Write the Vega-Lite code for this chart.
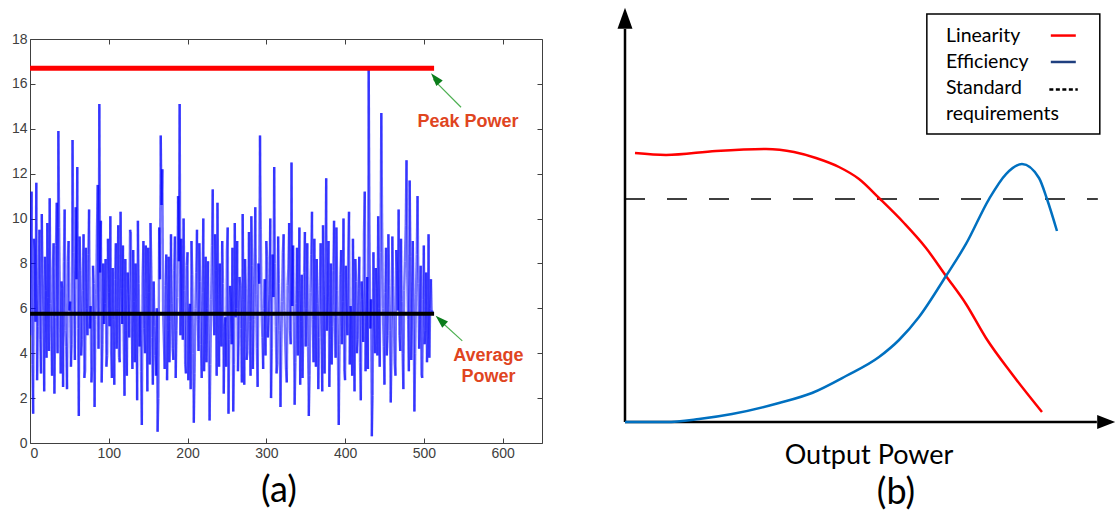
{
  "$schema": "https://vega.github.io/schema/vega-lite/v6.json",
  "padding": {"left": 10, "top": 7, "right": 0, "bottom": 0},
  "spacing": 83,
  "bounds": "flush",
  "config": {"view": {"stroke": null}, "font": "Liberation Sans"},
  "datasets": {
    "signal": [
      {"x":0,"p":4.8},{"x":2,"p":11.2},{"x":4,"p":1.3},{"x":6,"p":8.6},{"x":8,"p":11.6},{"x":10,"p":5.2},{"x":12,"p":9.5},{"x":14,"p":3.1},{"x":16,"p":7.4},{"x":18,"p":2.3},{"x":20,"p":6.8},{"x":22,"p":9.8},{"x":24,"p":4.1},{"x":26,"p":6.2},{"x":28,"p":3.0},{"x":30,"p":8.9},
      {"x":32,"p":5.6},{"x":34,"p":10.7},{"x":36,"p":13.9},{"x":38,"p":6.1},{"x":40,"p":7.2},{"x":42,"p":2.5},{"x":44,"p":10.4},{"x":46,"p":4.3},{"x":48,"p":8.1},{"x":50,"p":5.9},{"x":52,"p":3.4},{"x":54,"p":13.5},{"x":56,"p":6.4},{"x":58,"p":10.5},{"x":60,"p":12.3},{"x":62,"p":1.2},
      {"x":64,"p":7.7},{"x":66,"p":4.6},{"x":68,"p":9.3},{"x":70,"p":3.2},{"x":72,"p":6.0},{"x":74,"p":8.4},{"x":76,"p":5.1},{"x":78,"p":2.7},{"x":80,"p":7.9},{"x":82,"p":1.6},{"x":84,"p":6.6},{"x":86,"p":11.5},{"x":88,"p":15.1},{"x":90,"p":9.9},{"x":92,"p":4.4},{"x":94,"p":5.3},
      {"x":96,"p":8.2},{"x":98,"p":3.9},{"x":100,"p":6.7},{"x":102,"p":10.1},{"x":104,"p":2.9},{"x":106,"p":5.5},{"x":108,"p":7.3},{"x":110,"p":4.2},{"x":112,"p":9.7},{"x":114,"p":3.6},{"x":116,"p":6.9},{"x":118,"p":8.8},{"x":120,"p":2.1},{"x":122,"p":5.0},{"x":124,"p":7.6},{"x":126,"p":4.7},
      {"x":128,"p":9.4},{"x":130,"p":3.3},{"x":132,"p":6.3},{"x":134,"p":8.0},{"x":136,"p":1.9},{"x":138,"p":7.1},{"x":140,"p":5.8},{"x":142,"p":0.8},{"x":144,"p":9.0},{"x":146,"p":4.0},{"x":148,"p":6.5},{"x":150,"p":8.7},{"x":152,"p":3.5},{"x":154,"p":7.8},{"x":156,"p":2.6},{"x":158,"p":5.2},
      {"x":160,"p":3.0},{"x":162,"p":0.5},{"x":164,"p":9.6},{"x":166,"p":13.7},{"x":168,"p":12.2},{"x":170,"p":4.5},{"x":172,"p":7.0},{"x":174,"p":2.8},{"x":176,"p":8.3},{"x":178,"p":5.4},{"x":180,"p":6.2},{"x":182,"p":3.7},{"x":184,"p":9.2},{"x":186,"p":5.0},{"x":188,"p":11.0},{"x":190,"p":15.1},
      {"x":192,"p":9.1},{"x":194,"p":4.6},{"x":196,"p":6.8},{"x":198,"p":3.1},{"x":200,"p":8.5},{"x":202,"p":5.7},{"x":204,"p":2.4},{"x":206,"p":7.5},{"x":208,"p":0.9},{"x":210,"p":6.0},{"x":212,"p":9.5},{"x":214,"p":4.1},{"x":216,"p":7.2},{"x":218,"p":2.9},{"x":220,"p":10.0},{"x":222,"p":5.3},
      {"x":224,"p":3.6},{"x":226,"p":8.1},{"x":228,"p":1.0},{"x":230,"p":6.4},{"x":232,"p":11.3},{"x":234,"p":4.8},{"x":236,"p":7.7},{"x":238,"p":10.7},{"x":240,"p":3.4},{"x":242,"p":6.1},{"x":244,"p":9.0},{"x":246,"p":2.2},{"x":248,"p":5.6},{"x":250,"p":8.6},{"x":252,"p":1.3},{"x":254,"p":7.0},
      {"x":256,"p":4.4},{"x":258,"p":1.4},{"x":260,"p":9.8},{"x":262,"p":6.0},{"x":264,"p":3.2},{"x":266,"p":7.4},{"x":268,"p":5.1},{"x":270,"p":10.2},{"x":272,"p":2.6},{"x":274,"p":6.9},{"x":276,"p":4.0},{"x":278,"p":9.4},{"x":280,"p":3.0},{"x":282,"p":7.9},{"x":284,"p":5.5},{"x":286,"p":10.5},
      {"x":288,"p":4.2},{"x":290,"p":8.0},{"x":292,"p":13.7},{"x":294,"p":5.9},{"x":296,"p":3.3},{"x":298,"p":7.3},{"x":300,"p":9.0},{"x":302,"p":4.7},{"x":304,"p":6.6},{"x":306,"p":2.0},{"x":308,"p":8.4},{"x":310,"p":12.3},{"x":312,"p":5.2},{"x":314,"p":3.5},{"x":316,"p":7.1},{"x":318,"p":1.6},
      {"x":320,"p":6.3},{"x":322,"p":9.3},{"x":324,"p":4.5},{"x":326,"p":2.7},{"x":328,"p":7.8},{"x":330,"p":5.0},{"x":332,"p":12.5},{"x":334,"p":8.8},{"x":336,"p":1.7},{"x":338,"p":6.2},{"x":340,"p":3.9},{"x":342,"p":9.6},{"x":344,"p":5.4},{"x":346,"p":2.9},{"x":348,"p":7.6},{"x":350,"p":4.3},
      {"x":352,"p":8.9},{"x":354,"p":1.2},{"x":356,"p":6.7},{"x":358,"p":10.3},{"x":360,"p":3.6},{"x":362,"p":5.8},{"x":364,"p":8.2},{"x":366,"p":2.4},{"x":368,"p":7.0},{"x":370,"p":4.9},{"x":372,"p":9.7},{"x":374,"p":3.1},{"x":376,"p":11.8},{"x":378,"p":6.5},{"x":380,"p":2.5},{"x":382,"p":8.0},
      {"x":384,"p":5.2},{"x":386,"p":9.9},{"x":388,"p":3.8},{"x":390,"p":6.8},{"x":392,"p":0.8},{"x":394,"p":7.5},{"x":396,"p":4.4},{"x":398,"p":10.0},{"x":400,"p":2.8},{"x":402,"p":6.1},{"x":404,"p":8.6},{"x":406,"p":3.5},{"x":408,"p":5.7},{"x":410,"p":9.1},{"x":412,"p":2.3},{"x":414,"p":7.2},
      {"x":416,"p":4.6},{"x":418,"p":8.3},{"x":420,"p":1.9},{"x":422,"p":6.4},{"x":424,"p":9.4},{"x":426,"p":3.2},{"x":428,"p":7.4},{"x":430,"p":16.7},{"x":432,"p":5.1},{"x":434,"p":0.3},{"x":436,"p":8.5},{"x":438,"p":4.0},{"x":440,"p":6.9},{"x":442,"p":10.1},{"x":444,"p":3.4},{"x":446,"p":14.7},
      {"x":448,"p":6.0},{"x":450,"p":2.6},{"x":452,"p":8.7},{"x":454,"p":4.8},{"x":456,"p":7.0},{"x":458,"p":1.8},{"x":460,"p":9.2},{"x":462,"p":5.3},{"x":464,"p":3.0},{"x":466,"p":7.7},{"x":468,"p":10.4},{"x":470,"p":4.1},{"x":472,"p":6.3},{"x":474,"p":2.4},{"x":476,"p":8.1},{"x":478,"p":12.6},
      {"x":480,"p":5.5},{"x":482,"p":11.7},{"x":484,"p":3.7},{"x":486,"p":9.0},{"x":488,"p":1.4},{"x":490,"p":6.6},{"x":492,"p":11.0},{"x":494,"p":4.2},{"x":496,"p":7.9},{"x":498,"p":2.9},{"x":500,"p":8.8},{"x":502,"p":5.0},{"x":504,"p":3.6},{"x":506,"p":9.3},{"x":508,"p":6.0},{"x":510,"p":5.7},
      {"x":1,"p":7.9},{"x":3,"p":3.5},{"x":5,"p":9.1},{"x":7,"p":5.4},{"x":9,"p":2.8},{"x":11,"p":7.0},{"x":13,"p":4.6},{"x":15,"p":10.2},{"x":17,"p":5.9},{"x":19,"p":8.3},{"x":21,"p":3.8},{"x":23,"p":6.5},{"x":25,"p":10.9},{"x":27,"p":4.9},{"x":29,"p":7.8},{"x":31,"p":2.2},
      {"x":33,"p":8.8},{"x":35,"p":4.0},{"x":37,"p":9.6},{"x":39,"p":3.1},{"x":41,"p":6.9},{"x":43,"p":8.1},{"x":45,"p":5.0},{"x":47,"p":2.4},{"x":49,"p":9.0},{"x":51,"p":6.3},{"x":53,"p":4.4},{"x":55,"p":8.5},{"x":57,"p":3.7},{"x":59,"p":7.3},{"x":61,"p":5.1},{"x":63,"p":9.2},
      {"x":65,"p":3.9},{"x":67,"p":6.8},{"x":69,"p":2.9},{"x":71,"p":8.7},{"x":73,"p":4.8},{"x":75,"p":10.4},{"x":77,"p":6.1},{"x":79,"p":3.3},{"x":81,"p":7.1},{"x":83,"p":5.5},{"x":85,"p":9.4},{"x":87,"p":4.2},{"x":89,"p":7.6},{"x":91,"p":2.7},{"x":93,"p":8.0},{"x":95,"p":6.2},
      {"x":97,"p":3.4},{"x":99,"p":9.1},{"x":101,"p":5.2},{"x":103,"p":4.1},{"x":105,"p":7.8},{"x":107,"p":2.6},{"x":109,"p":8.9},{"x":111,"p":6.0},{"x":113,"p":3.8},{"x":115,"p":10.3},{"x":117,"p":5.3},{"x":119,"p":4.5},{"x":121,"p":8.2},{"x":123,"p":3.0},{"x":125,"p":6.6},{"x":127,"p":9.5},
      {"x":129,"p":5.7},{"x":131,"p":8.6},{"x":133,"p":3.6},{"x":135,"p":6.4},{"x":137,"p":9.9},{"x":139,"p":4.3},{"x":141,"p":3.2},{"x":143,"p":7.4},{"x":145,"p":5.1},{"x":147,"p":8.8},{"x":149,"p":2.3},{"x":151,"p":6.7},{"x":153,"p":9.8},{"x":155,"p":4.7},{"x":157,"p":7.2},{"x":159,"p":3.9},
      {"x":161,"p":6.0},{"x":163,"p":2.0},{"x":165,"p":7.3},{"x":167,"p":10.6},{"x":169,"p":5.8},{"x":171,"p":3.3},{"x":173,"p":8.4},{"x":175,"p":5.0},{"x":177,"p":3.6},{"x":179,"p":9.3},{"x":181,"p":4.2},{"x":183,"p":7.7},{"x":185,"p":2.9},{"x":187,"p":6.5},{"x":189,"p":8.1},{"x":191,"p":4.8},
      {"x":193,"p":6.9},{"x":195,"p":10.0},{"x":197,"p":3.5},{"x":199,"p":7.9},{"x":201,"p":2.8},{"x":203,"p":6.2},{"x":205,"p":9.0},{"x":207,"p":4.0},{"x":209,"p":3.1},{"x":211,"p":7.6},{"x":213,"p":5.5},{"x":215,"p":8.9},{"x":217,"p":4.4},{"x":219,"p":6.7},{"x":221,"p":3.2},{"x":223,"p":8.3},
      {"x":225,"p":6.0},{"x":227,"p":4.1},{"x":229,"p":3.5},{"x":231,"p":8.8},{"x":233,"p":5.9},{"x":235,"p":9.3},{"x":237,"p":3.0},{"x":239,"p":6.6},{"x":241,"p":8.0},{"x":243,"p":4.3},{"x":245,"p":7.1},{"x":247,"p":5.2},{"x":249,"p":3.4},{"x":251,"p":9.6},{"x":253,"p":4.6},{"x":255,"p":6.3},
      {"x":257,"p":8.7},{"x":259,"p":3.5},{"x":261,"p":5.6},{"x":263,"p":9.0},{"x":265,"p":4.5},{"x":267,"p":7.0},{"x":269,"p":2.7},{"x":271,"p":6.4},{"x":273,"p":8.2},{"x":275,"p":3.7},{"x":277,"p":6.1},{"x":279,"p":5.4},{"x":281,"p":10.1},{"x":283,"p":3.3},{"x":285,"p":7.8},{"x":287,"p":6.6},
      {"x":289,"p":2.5},{"x":291,"p":7.1},{"x":293,"p":9.5},{"x":295,"p":4.7},{"x":297,"p":6.0},{"x":299,"p":3.9},{"x":301,"p":8.3},{"x":303,"p":5.6},{"x":305,"p":10.0},{"x":307,"p":4.2},{"x":309,"p":6.5},{"x":311,"p":8.0},{"x":313,"p":3.1},{"x":315,"p":9.2},{"x":317,"p":5.0},{"x":319,"p":4.1},
      {"x":321,"p":8.5},{"x":323,"p":5.9},{"x":325,"p":3.3},{"x":327,"p":7.0},{"x":329,"p":9.8},{"x":331,"p":4.4},{"x":333,"p":6.1},{"x":335,"p":4.9},{"x":337,"p":3.6},{"x":339,"p":8.7},{"x":341,"p":6.8},{"x":343,"p":2.6},{"x":345,"p":7.5},{"x":347,"p":5.3},{"x":349,"p":9.4},{"x":351,"p":6.0},
      {"x":353,"p":4.3},{"x":355,"p":3.0},{"x":357,"p":8.4},{"x":359,"p":5.5},{"x":361,"p":9.1},{"x":363,"p":3.4},{"x":365,"p":6.2},{"x":367,"p":4.7},{"x":369,"p":8.9},{"x":371,"p":2.3},{"x":373,"p":6.6},{"x":375,"p":7.4},{"x":377,"p":5.0},{"x":379,"p":9.0},{"x":381,"p":4.6},{"x":383,"p":3.5},
      {"x":385,"p":7.7},{"x":387,"p":5.6},{"x":389,"p":9.6},{"x":391,"p":3.7},{"x":393,"p":4.4},{"x":395,"p":8.6},{"x":397,"p":6.3},{"x":399,"p":3.2},{"x":401,"p":7.9},{"x":403,"p":4.8},{"x":405,"p":10.3},{"x":407,"p":6.1},{"x":409,"p":3.0},{"x":411,"p":5.8},{"x":413,"p":8.2},{"x":415,"p":4.0},
      {"x":417,"p":6.9},{"x":419,"p":3.6},{"x":421,"p":7.2},{"x":423,"p":4.5},{"x":425,"p":11.2},{"x":427,"p":5.7},{"x":429,"p":3.3},{"x":431,"p":9.4},{"x":433,"p":6.4},{"x":435,"p":2.1},{"x":437,"p":5.3},{"x":439,"p":7.8},{"x":441,"p":3.9},{"x":443,"p":6.0},{"x":445,"p":8.5},{"x":447,"p":9.8},
      {"x":449,"p":4.3},{"x":451,"p":6.7},{"x":453,"p":3.9},{"x":455,"p":9.3},{"x":457,"p":5.0},{"x":459,"p":4.1},{"x":461,"p":7.0},{"x":463,"p":3.5},{"x":465,"p":8.6},{"x":467,"p":5.9},{"x":469,"p":4.8},{"x":471,"p":9.1},{"x":473,"p":4.0},{"x":475,"p":6.8},{"x":477,"p":9.7},{"x":479,"p":7.4},
      {"x":481,"p":3.2},{"x":483,"p":8.3},{"x":485,"p":5.8},{"x":487,"p":6.1},{"x":489,"p":4.0},{"x":491,"p":8.4},{"x":493,"p":7.1},{"x":495,"p":5.5},{"x":497,"p":3.0},{"x":499,"p":6.4},{"x":501,"p":4.4},{"x":503,"p":7.6},{"x":505,"p":4.9},{"x":507,"p":3.8},{"x":509,"p":7.3},{"x":511,"p":5.9}
    ],
    "curves": [
      {"s":"Linearity","i":1,"x":2.04,"y":70.23},{"s":"Linearity","i":2,"x":8.37,"y":69.71},{"s":"Linearity","i":3,"x":18.57,"y":70.76},{"s":"Linearity","i":4,"x":28.78,"y":71.28},{"s":"Linearity","i":5,"x":34.49,"y":70.5},{"s":"Linearity","i":6,"x":38.98,"y":68.93},{"s":"Linearity","i":7,"x":43.67,"y":66.58},{"s":"Linearity","i":8,"x":47.76,"y":63.45},{"s":"Linearity","i":9,"x":51.84,"y":58.49},{"s":"Linearity","i":10,"x":56.94,"y":51.96},{"s":"Linearity","i":11,"x":61.43,"y":45.43},{"s":"Linearity","i":12,"x":65.51,"y":38.12},{"s":"Linearity","i":13,"x":69.59,"y":30.81},{"s":"Linearity","i":14,"x":73.67,"y":21.93},{"s":"Linearity","i":15,"x":78.98,"y":12.53},{"s":"Linearity","i":16,"x":85.1,"y":2.61},
      {"s":"Efficiency","i":1,"x":0,"y":0},{"s":"Efficiency","i":2,"x":8.37,"y":0},{"s":"Efficiency","i":3,"x":15.1,"y":0.78},{"s":"Efficiency","i":4,"x":21.84,"y":2.09},{"s":"Efficiency","i":5,"x":31.43,"y":4.96},{"s":"Efficiency","i":6,"x":38.16,"y":7.57},{"s":"Efficiency","i":7,"x":45.1,"y":12.01},{"s":"Efficiency","i":8,"x":51.84,"y":16.97},{"s":"Efficiency","i":9,"x":55.92,"y":21.41},{"s":"Efficiency","i":10,"x":60.0,"y":27.42},{"s":"Efficiency","i":11,"x":65.51,"y":38.12},{"s":"Efficiency","i":12,"x":69.59,"y":46.48},{"s":"Efficiency","i":13,"x":74.29,"y":58.22},{"s":"Efficiency","i":14,"x":77.76,"y":64.75},{"s":"Efficiency","i":15,"x":81.02,"y":67.36},{"s":"Efficiency","i":16,"x":84.49,"y":63.71},{"s":"Efficiency","i":17,"x":86.12,"y":58.22},{"s":"Efficiency","i":18,"x":88.16,"y":49.87}
    ]
  },
  "hconcat": [
    {
      "width": 512,
      "height": 404,
      "view": {"stroke": "#404040", "strokeWidth": 1},
      "resolve": {"axis": {"x": "independent", "y": "independent"}},
      "layer": [
        {
          "data": {"name": "signal"},
          "transform": [
            {"window": [{"op": "lead", "field": "p", "as": "pn"}, {"op": "lead", "field": "x", "as": "xn"}], "sort": [{"field": "x", "order": "ascending"}]},
            {"filter": "datum.xn != null"}
          ],
          "mark": {"type": "rule", "stroke": "#0000ff", "strokeWidth": 2.4, "opacity": 0.55, "clip": true},
          "encoding": {
            "x": {"field": "x", "type": "quantitative", "scale": {"domain": [0, 650], "nice": false, "zero": false},
              "axis": {"orient": "bottom", "title": null, "values": [0,100,200,300,400,500,600], "grid": false, "domain": false, "tickSize": -5, "tickColor": "#404040", "labelColor": "#404040", "labelFontSize": 14, "labelPadding": 8, "labelFont": "Liberation Sans"}},
            "x2": {"field": "xn"},
            "y": {"field": "p", "type": "quantitative", "scale": {"domain": [0, 18], "nice": false, "zero": false},
              "axis": {"orient": "left", "title": null, "values": [0,2,4,6,8,10,12,14,16,18], "grid": false, "domain": false, "tickSize": -5, "tickColor": "#404040", "labelColor": "#404040", "labelFontSize": 14, "labelPadding": 8, "labelFont": "Liberation Sans"}},
            "y2": {"field": "pn"}
          }
        },
        {
          "data": {"values": [{"x": 0, "p": 0}]},
          "mark": {"type": "point", "opacity": 0},
          "encoding": {
            "x": {"field": "x", "type": "quantitative", "axis": {"orient": "top", "title": null, "labels": false, "values": [0,100,200,300,400,500,600], "grid": false, "domain": false, "tickSize": -5, "tickColor": "#404040"}},
            "y": {"field": "p", "type": "quantitative", "axis": {"orient": "right", "title": null, "labels": false, "values": [0,2,4,6,8,10,12,14,16,18], "grid": false, "domain": false, "tickSize": -5, "tickColor": "#404040"}}
          }
        },
        {
          "data": {"values": [{"x0": 0, "x1": 513, "y": 16.7}]},
          "mark": {"type": "rule", "color": "#ff0000", "strokeWidth": 5},
          "encoding": {"x": {"field": "x0", "type": "quantitative", "axis": null}, "x2": {"field": "x1"}, "y": {"field": "y", "type": "quantitative", "axis": null}}
        },
        {
          "data": {"values": [{"x0": 0, "x1": 513, "y": 5.76}]},
          "mark": {"type": "rule", "color": "#000000", "strokeWidth": 4},
          "encoding": {"x": {"field": "x0", "type": "quantitative", "axis": null}, "x2": {"field": "x1"}, "y": {"field": "y", "type": "quantitative", "axis": null}}
        },
        {
          "data": {"values": [{"xa": 547.2, "ya": 14.96, "xb": 512, "yb": 16.2}, {"xa": 548.8, "ya": 4.55, "xb": 519, "yb": 5.5}]},
          "mark": {"type": "rule", "color": "#4caf50", "strokeWidth": 1.2},
          "encoding": {"x": {"field": "xa", "type": "quantitative", "axis": null}, "y": {"field": "ya", "type": "quantitative", "axis": null}, "x2": {"field": "xb"}, "y2": {"field": "yb"}}
        },
        {
          "data": {"values": [{"x": 514.5, "y": 16.25}]},
          "mark": {"type": "point", "shape": "M0,-1L0.65,1L-0.65,1Z", "size": 169, "filled": true, "color": "#0b7d1b", "opacity": 1, "angle": 319},
          "encoding": {"x": {"field": "x", "type": "quantitative", "axis": null}, "y": {"field": "y", "type": "quantitative", "axis": null}}
        },
        {
          "data": {"values": [{"x": 521, "y": 5.47}]},
          "mark": {"type": "point", "shape": "M0,-1L0.65,1L-0.65,1Z", "size": 169, "filled": true, "color": "#0b7d1b", "opacity": 1, "angle": 313},
          "encoding": {"x": {"field": "x", "type": "quantitative", "axis": null}, "y": {"field": "y", "type": "quantitative", "axis": null}}
        },
        {
          "data": {"values": [{"x": 556, "y": 14.3, "t": "Peak Power"}, {"x": 582, "y": 3.88, "t": "Average"}, {"x": 582, "y": 2.96, "t": "Power"}]},
          "mark": {"type": "text", "color": "#e0451f", "fontSize": 18, "fontWeight": "bold", "font": "Liberation Sans", "align": "center", "baseline": "middle"},
          "encoding": {"x": {"field": "x", "type": "quantitative", "axis": null}, "y": {"field": "y", "type": "quantitative", "axis": null}, "text": {"field": "t"}}
        },
        {
          "data": {"values": [{"x": 316, "y": -2.14, "t": "(a)"}]},
          "mark": {"type": "text", "color": "#000000", "fontSize": 36, "font": "Lato", "align": "center", "baseline": "middle"},
          "encoding": {"x": {"field": "x", "type": "quantitative", "axis": null}, "y": {"field": "y", "type": "quantitative", "axis": null}, "text": {"field": "t"}}
        }
      ]
    },
    {
      "width": 490,
      "height": 383,
      "layer": [
        {
          "data": {"values": [{"xa": 0, "xb": 96.5, "y": 58.2}]},
          "mark": {"type": "rule", "color": "#000000", "strokeWidth": 1.5, "strokeDash": [20, 22]},
          "encoding": {"x": {"field": "xa", "type": "quantitative", "scale": {"domain": [0, 100], "nice": false, "zero": false}, "axis": null}, "x2": {"field": "xb"}, "y": {"field": "y", "type": "quantitative", "scale": {"domain": [0, 100], "nice": false, "zero": false}, "axis": null}}
        },
        {
          "data": {"values": [{"x": 0, "ya": 0, "yb": 102.6}]},
          "mark": {"type": "rule", "color": "#000000", "strokeWidth": 2.5},
          "encoding": {"x": {"field": "x", "type": "quantitative", "axis": null}, "y": {"field": "ya", "type": "quantitative", "axis": null}, "y2": {"field": "yb"}}
        },
        {
          "data": {"values": [{"xa": 0, "xb": 96.3, "y": 0}]},
          "mark": {"type": "rule", "color": "#000000", "strokeWidth": 2.5},
          "encoding": {"x": {"field": "xa", "type": "quantitative", "axis": null}, "x2": {"field": "xb"}, "y": {"field": "y", "type": "quantitative", "axis": null}}
        },
        {
          "data": {"values": [{"x": 0, "y": 105.4}]},
          "mark": {"type": "point", "shape": "M0,-1L0.714,1L-0.714,1Z", "size": 441, "filled": true, "color": "#000000", "opacity": 1},
          "encoding": {"x": {"field": "x", "type": "quantitative", "axis": null}, "y": {"field": "y", "type": "quantitative", "axis": null}}
        },
        {
          "data": {"values": [{"x": 98.2, "y": 0}]},
          "mark": {"type": "point", "shape": "M1,0L-1,-0.78L-1,0.78Z", "size": 324, "filled": true, "color": "#000000", "opacity": 1},
          "encoding": {"x": {"field": "x", "type": "quantitative", "axis": null}, "y": {"field": "y", "type": "quantitative", "axis": null}}
        },
        {
          "data": {"name": "curves"},
          "mark": {"type": "line", "strokeWidth": 2.5, "interpolate": "monotone"},
          "encoding": {
            "x": {"field": "x", "type": "quantitative", "axis": null},
            "y": {"field": "y", "type": "quantitative", "axis": null},
            "order": {"field": "i"},
            "color": {"field": "s", "type": "nominal", "scale": {"domain": ["Linearity", "Efficiency"], "range": ["#ff0000", "#0070c0"]}, "legend": null}
          }
        },
        {
          "data": {"values": [{"xa": 61.6, "xb": 96.9, "ya": 75.2, "yb": 106.5}]},
          "mark": {"type": "rect", "fill": "#ffffff", "stroke": "#000000", "strokeWidth": 1.5},
          "encoding": {"x": {"field": "xa", "type": "quantitative", "axis": null}, "x2": {"field": "xb"}, "y": {"field": "ya", "type": "quantitative", "axis": null}, "y2": {"field": "yb"}}
        },
        {
          "data": {"values": [{"x": 65.5, "y": 100.9, "t": "Linearity"}, {"x": 65.5, "y": 94.0, "t": "Efficiency"}, {"x": 65.5, "y": 87.2, "t": "Standard"}, {"x": 65.5, "y": 80.5, "t": "requirements"}]},
          "mark": {"type": "text", "align": "left", "baseline": "middle", "font": "Lato", "fontSize": 19.5, "color": "#000000"},
          "encoding": {"x": {"field": "x", "type": "quantitative", "axis": null}, "y": {"field": "y", "type": "quantitative", "axis": null}, "text": {"field": "t"}}
        },
        {
          "data": {"values": [{"xa": 86.9, "xb": 92.0, "y": 100.9}]},
          "mark": {"type": "rule", "color": "#ff0000", "strokeWidth": 2.5},
          "encoding": {"x": {"field": "xa", "type": "quantitative", "axis": null}, "x2": {"field": "xb"}, "y": {"field": "y", "type": "quantitative", "axis": null}}
        },
        {
          "data": {"values": [{"xa": 86.9, "xb": 92.0, "y": 94.0}]},
          "mark": {"type": "rule", "color": "#1f3f7f", "strokeWidth": 2.5},
          "encoding": {"x": {"field": "xa", "type": "quantitative", "axis": null}, "x2": {"field": "xb"}, "y": {"field": "y", "type": "quantitative", "axis": null}}
        },
        {
          "data": {"values": [{"xa": 86.6, "xb": 92.4, "y": 86.8}]},
          "mark": {"type": "rule", "color": "#000000", "strokeWidth": 2.5, "strokeDash": [4, 2.5]},
          "encoding": {"x": {"field": "xa", "type": "quantitative", "axis": null}, "x2": {"field": "xb"}, "y": {"field": "y", "type": "quantitative", "axis": null}}
        },
        {
          "data": {"values": [{"x": 49.8, "y": -8.9, "t": "Output Power"}]},
          "mark": {"type": "text", "align": "center", "baseline": "middle", "font": "Lato", "fontSize": 27, "color": "#000000"},
          "encoding": {"x": {"field": "x", "type": "quantitative", "axis": null}, "y": {"field": "y", "type": "quantitative", "axis": null}, "text": {"field": "t"}}
        },
        {
          "data": {"values": [{"x": 55.3, "y": -18.5, "t": "(b)"}]},
          "mark": {"type": "text", "align": "center", "baseline": "middle", "font": "Lato", "fontSize": 36, "color": "#000000"},
          "encoding": {"x": {"field": "x", "type": "quantitative", "axis": null}, "y": {"field": "y", "type": "quantitative", "axis": null}, "text": {"field": "t"}}
        }
      ]
    }
  ]
}
